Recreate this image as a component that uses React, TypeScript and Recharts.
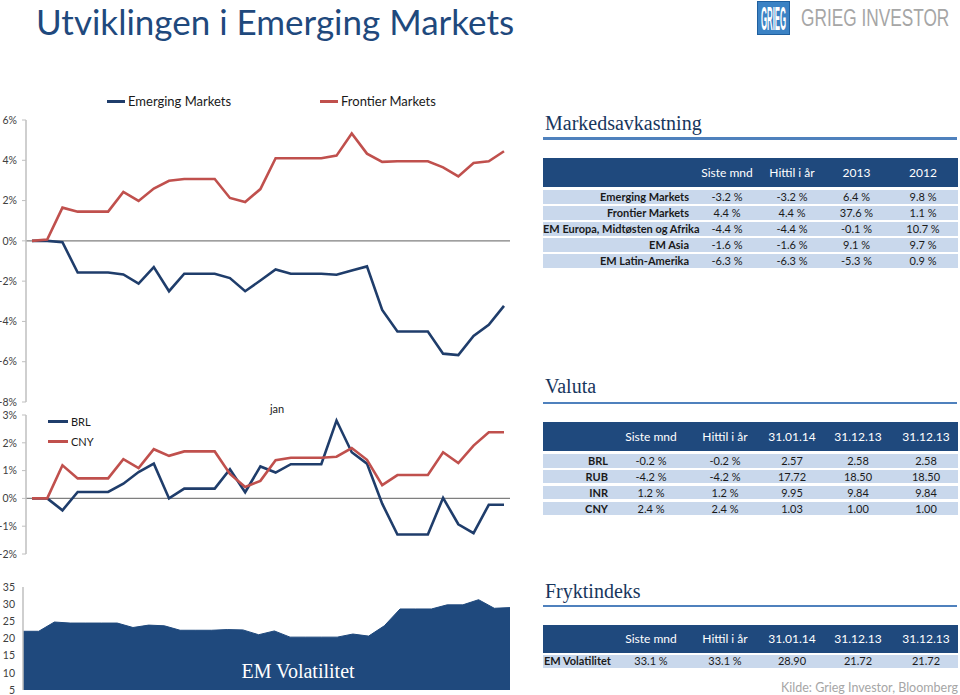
import { LineChart, Line, AreaChart, Area, XAxis, YAxis, ReferenceLine } from "recharts";

// calendar days 31.12.13 - 31.01.14
const dates = [
  "31.12", "01.01", "02.01", "03.01", "04.01", "05.01", "06.01", "07.01",
  "08.01", "09.01", "10.01", "11.01", "12.01", "13.01", "14.01", "15.01",
  "16.01", "17.01", "18.01", "19.01", "20.01", "21.01", "22.01", "23.01",
  "24.01", "25.01", "26.01", "27.01", "28.01", "29.01", "30.01", "31.01",
];

const emergingMarkets = [
  0, 0, -0.07, -1.57, -1.57, -1.57, -1.67, -2.12, -1.3, -2.5, -1.63, -1.63,
  -1.63, -1.85, -2.5, -1.97, -1.42, -1.63, -1.63, -1.63, -1.68, -1.47, -1.27,
  -3.43, -4.5, -4.5, -4.5, -5.6, -5.67, -4.72, -4.17, -3.23,
];
const frontierMarkets = [
  0, 0.07, 1.65, 1.45, 1.45, 1.45, 2.43, 1.98, 2.6, 2.98, 3.07, 3.07, 3.07,
  2.13, 1.93, 2.57, 4.1, 4.1, 4.1, 4.1, 4.23, 5.33, 4.33, 3.92, 3.95, 3.95,
  3.95, 3.65, 3.2, 3.87, 3.95, 4.45,
];
const brl = [
  0, 0, -0.43, 0.23, 0.23, 0.23, 0.53, 0.95, 1.25, 0, 0.35, 0.35, 0.35, 1.05,
  0.22, 1.15, 0.93, 1.23, 1.23, 1.23, 2.8, 1.66, 1.25, -0.19, -1.3, -1.3, -1.3,
  0.02, -0.93, -1.25, -0.23, -0.23,
];
const cny = [
  0, 0, 1.19, 0.72, 0.72, 0.72, 1.41, 1.09, 1.77, 1.53, 1.69, 1.69, 1.69, 0.88,
  0.41, 0.63, 1.37, 1.46, 1.46, 1.46, 1.5, 1.81, 1.39, 0.48, 0.84, 0.84, 0.84,
  1.66, 1.27, 1.9, 2.38, 2.38,
];
const emVolatility = [
  22.1, 22.1, 24.8, 24.5, 24.5, 24.5, 24.5, 23.2, 23.9, 23.7, 22.4, 22.4, 22.4,
  22.6, 22.5, 21.1, 22.2, 20.4, 20.4, 20.4, 20.4, 21.3, 20.7, 23.7, 28.6, 28.6,
  28.6, 29.8, 29.8, 31.3, 28.8, 29.0,
];

const returnTicks = [-8, -6, -4, -2, 0, 2, 4, 6];
const fxTicks = [-2, -1, 0, 1, 2, 3];
const volTicks = [5, 10, 15, 20, 25, 30, 35];

const marketHeader = ["", "Siste mnd", "Hittil i år", "2013", "2012"];
const marketRows = [
  ["Emerging Markets", "-3.2 %", "-3.2 %", "6.4 %", "9.8 %"],
  ["Frontier Markets", "4.4 %", "4.4 %", "37.6 %", "1.1 %"],
  ["EM Europa, Midtøsten og Afrika", "-4.4 %", "-4.4 %", "-0.1 %", "10.7 %"],
  ["EM Asia", "-1.6 %", "-1.6 %", "9.1 %", "9.7 %"],
  ["EM Latin-Amerika", "-6.3 %", "-6.3 %", "-5.3 %", "0.9 %"],
];
const fxHeader = ["", "Siste mnd", "Hittil i år", "31.01.14", "31.12.13", "31.12.13"];
const fxRows = [
  ["BRL", "-0.2 %", "-0.2 %", "2.57", "2.58", "2.58"],
  ["RUB", "-4.2 %", "-4.2 %", "17.72", "18.50", "18.50"],
  ["INR", "1.2 %", "1.2 %", "9.95", "9.84", "9.84"],
  ["CNY", "2.4 %", "2.4 %", "1.03", "1.00", "1.00"],
];
const fearRows = [["EM Volatilitet", "33.1 %", "33.1 %", "28.90", "21.72", "21.72"]];

const returnData = dates.map((d, i) => ({ date: d, em: emergingMarkets[i], fm: frontierMarkets[i] }));
const fxData = dates.map((d, i) => ({ date: d, brl: brl[i], cny: cny[i] }));
const volData = dates.map((d, i) => ({ date: d, vol: emVolatility[i] }));

const BLUE = "#1f3d6b";
const RED = "#c0504d";
const NAVY = "#1f497d";
const ROW = "#c9d8ec";
const SANS = "Lato, 'Noto Sans', sans-serif";
const SERIF = "'Liberation Serif', 'DejaVu Serif', serif";

const tickStyle = { fill: "#404040", fontSize: 10.5, fontFamily: SANS };
const pct = (v: number) => `${v}%`;

type Col = { left: number; width: number; align: "left" | "center" | "right"; pad?: number };
const marketCols: Col[] = [
  { left: 543, width: 152, align: "right", pad: 6 },
  { left: 695, width: 64, align: "center" },
  { left: 759, width: 66, align: "center" },
  { left: 825, width: 63, align: "center" },
  { left: 888, width: 70, align: "center" },
];
const fxCols: Col[] = [
  { left: 543, width: 71, align: "right", pad: 6 },
  { left: 614, width: 74, align: "center" },
  { left: 688, width: 74, align: "center" },
  { left: 762, width: 60, align: "center" },
  { left: 822, width: 72, align: "center" },
  { left: 894, width: 64, align: "center" },
];

function Cell({ col, top, height, text, bold, color, fontSize }: any) {
  return (
    <div
      style={{
        position: "absolute",
        left: col.left,
        top,
        width: col.width,
        height,
        lineHeight: `${height}px`,
        textAlign: col.align,
        paddingRight: col.align === "right" ? col.pad : 0,
        paddingLeft: col.align === "left" ? col.pad || 0 : 0,
        boxSizing: "border-box",
        fontWeight: bold ? 700 : 400,
        fontSize,
        color,
        whiteSpace: "nowrap",
      }}
    >
      {text}
    </div>
  );
}

function DataTable({ top, headH, rowTop, rowH, step, cols, header, rows }: any) {
  return (
    <div style={{ position: "absolute", left: 0, top: 0, fontFamily: SANS }}>
      <div style={{ position: "absolute", left: 543, top, width: 415, height: headH, background: NAVY }} />
      {header.map((h: string, i: number) => (
        <Cell key={"h" + i} col={cols[i]} top={top} height={headH} text={h} color="#fff" fontSize={12} />
      ))}
      {rows.map((r: string[], ri: number) => (
        <div key={ri}>
          <div
            style={{ position: "absolute", left: 543, top: rowTop + ri * step, width: 415, height: rowH, background: ROW }}
          />
          {r.map((t, ci) => (
            <Cell key={ci} col={cols[ci]} top={rowTop + ri * step} height={rowH} text={t} bold={ci === 0} color="#1a1a1a" fontSize={11} />
          ))}
        </div>
      ))}
    </div>
  );
}

function SectionTitle({ text, top, lineTop }: { text: string; top: number; lineTop: number }) {
  return (
    <>
      <div style={{ position: "absolute", left: 545, top, fontFamily: SERIF, fontSize: 20, lineHeight: "20px", color: "#17365d" }}>
        {text}
      </div>
      <div style={{ position: "absolute", left: 543, top: lineTop, width: 414, height: 2.5, background: "#4f81bd" }} />
    </>
  );
}

function LegendItem({ x, y, color, label, len = 18, fontSize = 13 }: any) {
  return (
    <div style={{ position: "absolute", left: x, top: y - 10, height: 20, display: "flex", alignItems: "center", fontFamily: SANS, fontSize, color: "#1a1a1a" }}>
      <span style={{ display: "inline-block", width: len, height: 3, background: color, marginRight: 3 }} />
      {label}
    </div>
  );
}

export default function App() {
  return (
    <div style={{ position: "absolute", left: 0, top: 0, width: 960, height: 695, background: "#fff", overflow: "hidden" }}>
      <div style={{ position: "absolute", left: 36, top: 1, fontFamily: SANS, fontSize: 35, lineHeight: "40px", color: NAVY, whiteSpace: "nowrap" }}>
        Utviklingen i Emerging Markets
      </div>

      {/* logo */}
      <div style={{ position: "absolute", left: 757, top: 1, width: 33, height: 34, background: "#3b82c4", border: "1px solid #1f5f9e", boxSizing: "border-box", display: "flex", alignItems: "center", justifyContent: "center" }}>
        <span style={{ color: "#fff", fontFamily: "'Liberation Sans', sans-serif", fontSize: 14, fontWeight: 700, lineHeight: "14px", whiteSpace: "nowrap", transform: "scaleX(0.56) scaleY(2.4)" }}>
          GRIEG
        </span>
      </div>
      <div style={{ position: "absolute", left: 801, top: 4, fontFamily: "'Liberation Sans', sans-serif", fontSize: 23, lineHeight: "28px", color: "#a6a6a6", whiteSpace: "nowrap", transformOrigin: "left top", transform: "scaleX(0.75)" }}>
        GRIEG INVESTOR
      </div>

      {/* Chart 1: returns */}
      <LegendItem x={107} y={101} color={BLUE} label="Emerging Markets" />
      <LegendItem x={320} y={101} color={RED} label="Frontier Markets" />
      <div style={{ position: "absolute", left: 0, top: 90 }}>
        <LineChart width={520} height={317} data={returnData} margin={{ top: 30, right: 10, bottom: 5, left: 0 }}>
          <XAxis dataKey="date" hide padding={{ left: 6, right: 6 }} />
          <YAxis
            domain={[-8, 6]}
            ticks={returnTicks}
            interval={0}
            tickFormatter={pct}
            width={26}
            tick={tickStyle}
            tickSize={4}
            tickMargin={5}
            axisLine={{ stroke: "#bfbfbf", strokeWidth: 1.5 }}
            tickLine={{ stroke: "#bfbfbf" }}
          />
          <ReferenceLine y={0} stroke="#7f7f7f" strokeWidth={1.2} />
          <Line type="linear" dataKey="em" stroke={BLUE} strokeWidth={2.6} dot={false} isAnimationActive={false} />
          <Line type="linear" dataKey="fm" stroke={RED} strokeWidth={2.6} dot={false} isAnimationActive={false} />
        </LineChart>
      </div>

      {/* Chart 2: currencies */}
      <LegendItem x={48} y={421} color={BLUE} label="BRL" len={20} fontSize={11} />
      <LegendItem x={48} y={441} color={RED} label="CNY" len={20} fontSize={11} />
      <div style={{ position: "absolute", left: 262, top: 402, width: 30, textAlign: "center", fontFamily: SANS, fontSize: 11, color: "#1a1a1a" }}>
        jan
      </div>
      <div style={{ position: "absolute", left: 0, top: 405 }}>
        <LineChart width={520} height={155} data={fxData} margin={{ top: 10, right: 10, bottom: 6, left: 0 }}>
          <XAxis dataKey="date" hide padding={{ left: 6, right: 6 }} />
          <YAxis
            domain={[-2, 3]}
            ticks={fxTicks}
            interval={0}
            tickFormatter={pct}
            width={26}
            tick={tickStyle}
            tickSize={4}
            tickMargin={5}
            axisLine={{ stroke: "#bfbfbf", strokeWidth: 1.5 }}
            tickLine={{ stroke: "#bfbfbf" }}
          />
          <ReferenceLine y={0} stroke="#7f7f7f" strokeWidth={1.2} />
          <Line type="linear" dataKey="brl" stroke={BLUE} strokeWidth={2.6} dot={false} isAnimationActive={false} />
          <Line type="linear" dataKey="cny" stroke={RED} strokeWidth={2.6} dot={false} isAnimationActive={false} />
        </LineChart>
      </div>

      {/* Chart 3: EM volatility */}
      <div style={{ position: "absolute", left: 0, top: 580 }}>
        <AreaChart width={520} height={115} data={volData} margin={{ top: 7, right: 10, bottom: 5, left: 0 }}>
          <XAxis dataKey="date" hide />
          <YAxis
            domain={[5, 35]}
            ticks={volTicks}
            interval={0}
            width={23}
            tick={tickStyle}
            tickSize={3}
            tickMargin={5}
            axisLine={{ stroke: "#bfbfbf", strokeWidth: 1.5 }}
            tickLine={false}
          />
          <Area type="linear" dataKey="vol" stroke={NAVY} strokeWidth={1} fill={NAVY} fillOpacity={1} isAnimationActive={false} />
        </AreaChart>
      </div>
      <div style={{ position: "absolute", left: 238, top: 660, width: 120, textAlign: "center", fontFamily: SERIF, fontSize: 20, color: "#fff", whiteSpace: "nowrap" }}>
        EM Volatilitet
      </div>

      {/* right side tables */}
      <SectionTitle text="Markedsavkastning" top={113} lineTop={137} />
      <DataTable top={158} headH={29} rowTop={189.5} rowH={14} step={16} cols={marketCols} header={marketHeader} rows={marketRows} />

      <SectionTitle text="Valuta" top={376} lineTop={401.5} />
      <DataTable top={422} headH={29} rowTop={454} rowH={13.5} step={15.9} cols={fxCols} header={fxHeader} rows={fxRows} />

      <SectionTitle text="Fryktindeks" top={581} lineTop={604.5} />
      <DataTable
        top={625}
        headH={28}
        rowTop={655}
        rowH={12.5}
        step={16}
        cols={[{ left: 543, width: 71, align: "left", pad: 1 }, ...fxCols.slice(1)]}
        header={fxHeader}
        rows={fearRows}
      />
      <div style={{ position: "absolute", left: 781, top: 680, fontFamily: SANS, fontSize: 12.5, lineHeight: "15px", color: "#a6a6a6", whiteSpace: "nowrap" }}>
        Kilde: Grieg Investor, Bloomberg
      </div>
    </div>
  );
}
